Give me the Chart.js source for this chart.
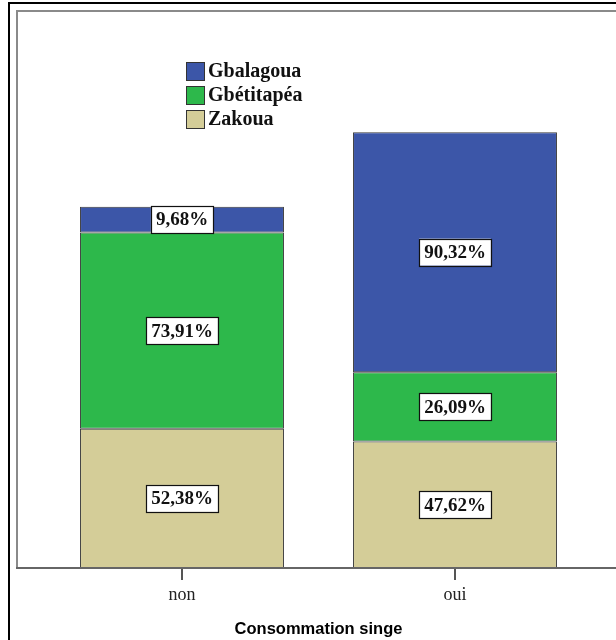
<!DOCTYPE html>
<html>
<head>
<meta charset="utf-8">
<script src="https://cdn.jsdelivr.net/npm/chart.js@4/dist/chart.umd.min.js"></script>
<style>
html,body{margin:0;padding:0;background:#fff;}
#wrap{width:616px;height:640px;position:relative;}
</style>
</head>
<body>
<div id="wrap"><canvas id="c" width="616" height="640"></canvas></div>
<script>
const categories = ['non', 'oui'];
const zakoua = [52.38, 47.62];
const gbetitapea = [73.91, 26.09];
const gbalagoua = [9.68, 90.32];
const seriesNames = ['Zakoua', 'Gbétitapéa', 'Gbalagoua'];
const seriesColors = ['#d4cd98', '#2db84b', '#3c56a8'];
const axisTitle = 'Consommation singe';

const frame = {
  id: 'frame',
  beforeDraw(chart) {
    const ctx = chart.ctx;
    const a = chart.chartArea;
    ctx.save();
    ctx.fillStyle = '#fff';
    ctx.fillRect(0, 0, chart.width, chart.height);
    ctx.strokeStyle = '#000';
    ctx.lineWidth = 2;
    ctx.beginPath();
    ctx.moveTo(9, chart.height + 5);
    ctx.lineTo(9, 3);
    ctx.lineTo(chart.width + 5, 3);
    ctx.stroke();
    ctx.strokeStyle = '#8a8a8a';
    ctx.lineWidth = 2;
    ctx.beginPath();
    ctx.moveTo(17, a.bottom);
    ctx.lineTo(17, 11);
    ctx.lineTo(chart.width + 5, 11);
    ctx.stroke();
    ctx.restore();
  },
  afterDatasetsDraw(chart) {
    const ctx = chart.ctx;
    const a = chart.chartArea;
    ctx.save();
    ctx.strokeStyle = '#666';
    ctx.lineWidth = 2;
    ctx.beginPath();
    ctx.moveTo(16, a.bottom);
    ctx.lineTo(chart.width + 5, a.bottom);
    ctx.stroke();
    // value labels
    ctx.font = 'bold 19px "Liberation Serif"';
    ctx.textAlign = 'center';
    ctx.textBaseline = 'middle';
    chart.data.datasets.forEach((ds, di) => {
      const meta = chart.getDatasetMeta(di);
      meta.data.forEach((bar, i) => {
        const p = bar.getProps(['x', 'y', 'base'], true);
        const cy = (p.y + p.base) / 2;
        const txt = ds.data[i].toFixed(2).replace('.', ',') + '%';
        const w = ctx.measureText(txt).width + 10;
        const h = 27;
        ctx.fillStyle = '#fff';
        ctx.fillRect(p.x - w / 2, cy - h / 2, w, h);
        ctx.strokeStyle = '#111';
        ctx.lineWidth = 1.2;
        ctx.strokeRect(Math.round(p.x - w / 2) + 0.5, Math.round(cy - h / 2) + 0.5, Math.round(w), h);
        ctx.fillStyle = '#111';
        ctx.fillText(txt, p.x, cy + 1);
      });
    });
    // legend
    const items = chart.data.datasets.slice().reverse();
    ctx.textAlign = 'left';
    ctx.font = 'bold 20px "Liberation Serif"';
    items.forEach((ds, k) => {
      const bx = 186, by = 62 + k * 24;
      ctx.fillStyle = ds.backgroundColor;
      ctx.fillRect(bx, by, 19, 19);
      ctx.strokeStyle = '#333';
      ctx.lineWidth = 1;
      ctx.strokeRect(bx + 0.5, by + 0.5, 18, 18);
      ctx.fillStyle = '#111';
      ctx.fillText(ds.label, bx + 22, by + 10);
    });
    ctx.restore();
  }
};

const datasets = [zakoua, gbetitapea, gbalagoua].map((vals, i) => ({
  label: seriesNames[i],
  data: vals,
  backgroundColor: seriesColors[i],
  borderColor: '#3a3a3a',
  borderWidth: 1,
  borderSkipped: false,
  barPercentage: 0.747,
  categoryPercentage: 1.0
}));

new Chart(document.getElementById('c'), {
  type: 'bar',
  data: { labels: categories, datasets },
  options: {
    responsive: false,
    animation: false,
    devicePixelRatio: 1,
    layout: { padding: { left: 45.5, right: 24.5, top: 10, bottom: 0 } },
    plugins: { legend: { display: false }, tooltip: { enabled: false } },
    scales: {
      x: {
        stacked: true,
        border: { display: false },
        grid: { display: true, drawOnChartArea: false, drawTicks: true, tickLength: 12, offset: false, color: '#555', lineWidth: 2 },
        ticks: { color: '#222', font: { family: 'Liberation Serif', size: 18 }, padding: 4 },
        title: { display: true, text: axisTitle, color: '#000', font: { family: 'Liberation Sans', size: 16.5, weight: 'bold' }, padding: { top: 0, bottom: 1 } },
        afterFit(scale) { scale.height = 72; }
      },
      y: { stacked: true, display: false, min: 0, max: 210 }
    }
  },
  plugins: [frame]
});
</script>
</body>
</html>
